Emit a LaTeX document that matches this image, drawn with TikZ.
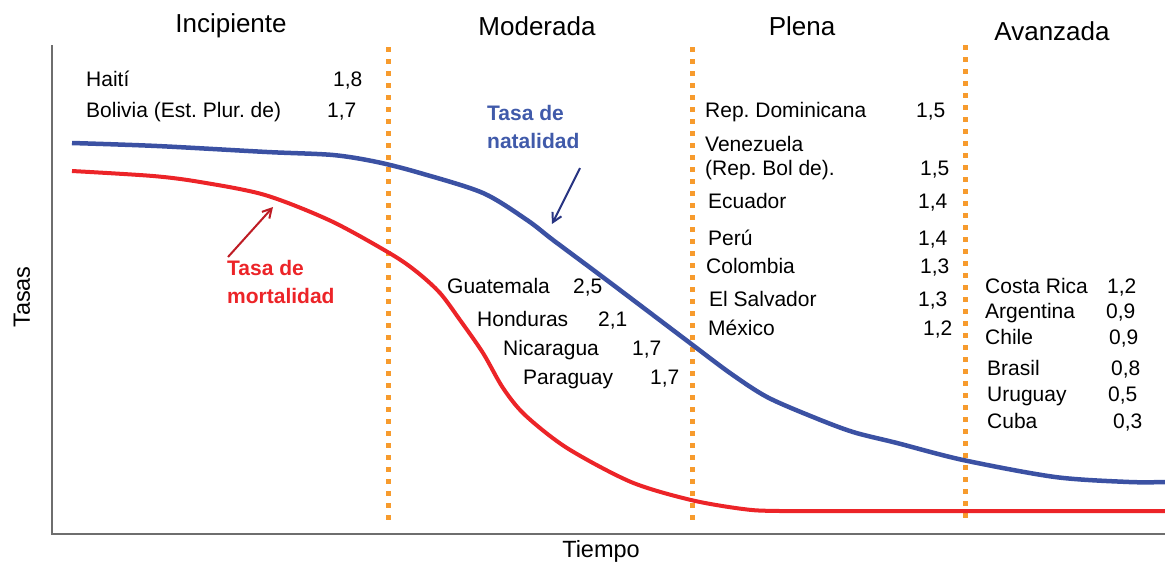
\documentclass[tikz,border=0pt]{standalone}
\usepackage{fontspec}
\setmainfont{Liberation Sans}
\usetikzlibrary{arrows.meta}
\definecolor{natblue}{RGB}{59,81,163}
\definecolor{natlabel}{RGB}{64,90,170}
\definecolor{natarrow}{RGB}{40,52,130}
\definecolor{morred}{RGB}{236,36,40}
\definecolor{morarrow}{RGB}{190,28,36}
\definecolor{stageorange}{RGB}{247,155,45}
\definecolor{axisgray}{RGB}{110,110,110}
\tikzset{
  stagehead/.style={font=\fontsize{26}{30}\selectfont, inner sep=0pt},
  country/.style={font=\fontsize{21}{25}\selectfont\frenchspacing, inner sep=0pt, anchor=base west},
  axislabel/.style={font=\fontsize{23.5}{27}\selectfont, inner sep=0pt},
  curvelabel/.style={font=\fontsize{21}{28}\selectfont\bfseries, inner sep=0pt, anchor=north west, align=left},
  stageline/.style={stageorange, line width=5pt, dash pattern=on 5pt off 7pt},
  axisline/.style={axisgray, line width=2pt},
  natcurve/.style={natblue, line width=4.5pt, line join=round},
  morcurve/.style={morred, line width=4pt, line join=round},
  pointer/.style={line width=2pt, -{Straight Barb[length=9pt, width=10pt, line width=2pt]}}
}
\begin{document}
\begin{tikzpicture}[x=1pt, y=-1pt]
\useasboundingbox (0,0) rectangle (1165,563);
% axes
\coordinate (ytop) at (52,45);
\coordinate (origin) at (52,534);
\coordinate (xend) at (1165,534);
\draw[axisline] (ytop) -- (origin) -- (xend);
\node[axislabel, rotate=90] (ylab) at (22,297) {Tasas};
\node[axislabel] (xlab) at (601,551) {Tiempo};
% stage separators
\coordinate (s1t) at (388,47); \coordinate (s1b) at (388,523);
\coordinate (s2t) at (692,47); \coordinate (s2b) at (692,523);
\coordinate (s3t) at (965,45); \coordinate (s3b) at (965,520);
\draw[stageline] (s1t) -- (s1b);
\draw[stageline] (s2t) -- (s2b);
\draw[stageline] (s3t) -- (s3b);
% stage headings
\node[stagehead] (h1) at (231,26) {Incipiente};
\node[stagehead] (h2) at (537,26) {Moderada};
\node[stagehead] (h3) at (802,26) {Plena};
\node[stagehead] (h4) at (1052,31) {Avanzada};
% curves
\draw[natcurve] plot[smooth, tension=0.5] coordinates {
 (72,143) (157,146) (267,152) (333,155) (377,162) (420,173) (483,193)
 (527,220) (553,240) (600,275) (653,315) (690,343) (730,373) (767,397)
 (813,417) (853,432) (897,443) (963,460) (1055,477) (1129,482) (1165,482)};
\draw[morcurve] plot[smooth, tension=0.5] coordinates {
 (72,171) (153,176) (200,182) (265,195) (331,221) (391,254) (417,272)
 (440,293) (460,320) (483,353) (503,388) (525,415) (567,448) (631,482)
 (691,500) (743,509) (780,511) (900,511) (1165,511)};
% curve labels and pointers
\node[curvelabel, text=natlabel] (natlab) at (487,105) {Tasa de\\natalidad};
\node[curvelabel, text=morred] (morlab) at (227,260) {Tasa de\\mortalidad};
\coordinate (nattail) at (580,168);
\coordinate (nathead) at (552,224);
\coordinate (mortail) at (228,257);
\coordinate (morhead) at (273,207);
\draw[pointer, natarrow] (nattail) -- (nathead);
\draw[pointer, morarrow] (mortail) -- (morhead);
% Incipiente
\node[country] (c1) at (86,86) {Haití};
\node[country] (v1) at (333,86) {1,8};
\node[country] (c2) at (86,117) {Bolivia (Est. Plur. de)};
\node[country] (v2) at (327,117) {1,7};
% Moderada
\node[country] (c3) at (447,293) {Guatemala};
\node[country] (v3) at (573,293) {2,5};
\node[country] (c4) at (477,326) {Honduras};
\node[country] (v4) at (598,326) {2,1};
\node[country] (c5) at (503,355) {Nicaragua};
\node[country] (v5) at (632,355) {1,7};
\node[country] (c6) at (523,384) {Paraguay};
\node[country] (v6) at (650,384) {1,7};
% Plena
\node[country] (c7) at (705,117) {Rep. Dominicana};
\node[country] (v7) at (916,117) {1,5};
\node[country] (c8) at (705,151) {Venezuela};
\node[country] (c8b) at (705,175) {(Rep. Bol de).};
\node[country] (v8) at (920,175) {1,5};
\node[country] (c9) at (708,208) {Ecuador};
\node[country] (v9) at (918,208) {1,4};
\node[country] (c10) at (708,245) {Perú};
\node[country] (v10) at (918,245) {1,4};
\node[country] (c11) at (706,273) {Colombia};
\node[country] (v11) at (920,273) {1,3};
\node[country] (c12) at (709,306) {El Salvador};
\node[country] (v12) at (918,306) {1,3};
\node[country] (c13) at (708,335) {México};
\node[country] (v13) at (923,335) {1,2};
% Avanzada
\node[country] (c14) at (985,293) {Costa Rica};
\node[country] (v14) at (1107,293) {1,2};
\node[country] (c15) at (985,318) {Argentina};
\node[country] (v15) at (1106,318) {0,9};
\node[country] (c16) at (985,344) {Chile};
\node[country] (v16) at (1109,344) {0,9};
\node[country] (c17) at (987,375) {Brasil};
\node[country] (v17) at (1111,375) {0,8};
\node[country] (c18) at (987,401) {Uruguay};
\node[country] (v18) at (1108,401) {0,5};
\node[country] (c19) at (987,428) {Cuba};
\node[country] (v19) at (1113,428) {0,3};
\end{tikzpicture}
\end{document}
